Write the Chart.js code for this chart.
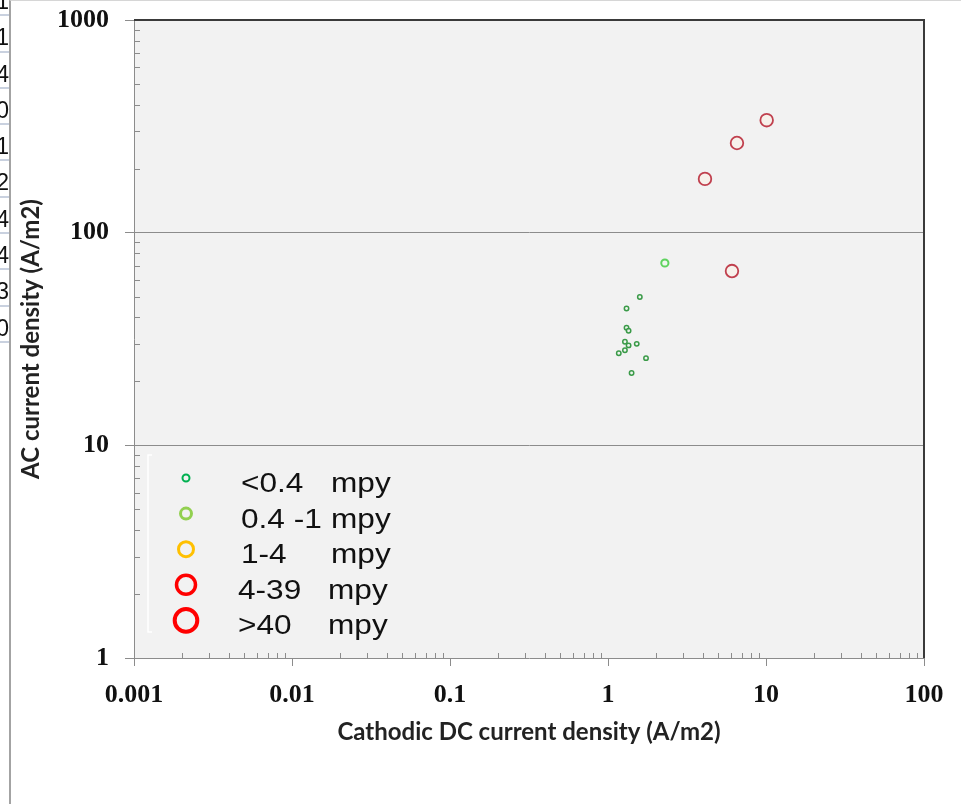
<!DOCTYPE html>
<html>
<head>
<meta charset="utf-8">
<script src="https://cdn.jsdelivr.net/npm/chart.js@4.4.0/dist/chart.umd.min.js"></script>
<style>
  html, body { margin: 0; padding: 0; background: #fff; }
  #wrap { position: relative; width: 961px; height: 804px; overflow: hidden; }
  #chart { position: absolute; left: 0; top: 0; }
  #frame { position: absolute; left: 9px; top: 0; width: 952px; height: 804px; box-sizing: border-box;
           border-left: 2px solid #a3a3a3; border-top: 1px solid #d6d6d6; pointer-events: none; }
  #cells { position: absolute; left: -19px; top: -20px; width: 28px;
           font: 23px "Liberation Sans", Arial, sans-serif; color: #111; }
  #cells div { height: 36.3px; box-sizing: border-box; border-bottom: 2px solid #c9d1df;
               text-align: right; line-height: 36px; padding-top: 3px; padding-right: 0; }
</style>
</head>
<body>
<div id="wrap">
  <canvas id="chart" width="961" height="804"></canvas>
  <div id="cells"></div>
  <div id="frame"></div>
</div>
<script>
// cut-off spreadsheet column on the left edge
const cellDigits = ["1", "1", "4", "0", "1", "2", "4", "4", "3", "0"];

// axes
const xTickValues = [0.001, 0.01, 0.1, 1, 10, 100];
const xTickLabels = ["0.001", "0.01", "0.1", "1", "10", "100"];
const yTickValues = [1, 10, 100, 1000];
const yTickLabels = ["1", "10", "100", "1000"];

// legend
const legendLabels = ["<0.4", "0.4 -1", "1-4", "4-39", ">40"];
const unitLabel = "mpy";

// points: cathodic DC density (x) vs AC density (y)
const lowDC = [1.59, 1.31, 1.31, 1.35, 1.28, 1.35, 1.52, 1.28, 1.17, 1.74, 1.41];
const lowAC = [49.8, 44, 35.7, 34.6, 30.7, 29.5, 30, 28, 27.1, 25.7, 21.9];
const midDC = [2.29];
const midAC = [72];
const highDC = [10.1, 6.55, 4.11, 6.09];
const highAC = [338, 264, 179, 66];

document.getElementById("cells").innerHTML =
  cellDigits.map(d => "<div>" + d + "</div>").join("");

const toPoints = (xs, ys) => xs.map((x, i) => ({ x: x, y: ys[i] }));

function minorValues(min, max) {
  const out = [];
  for (let d = min; d < max * 0.999; d *= 10) {
    for (let m = 2; m <= 9; m++) out.push(d * m);
  }
  return out;
}

const legendStyle = [
  { color: "#00b050", r: 3.5, w: 2 },
  { color: "#92d050", r: 5.5, w: 3 },
  { color: "#ffc000", r: 7.5, w: 3 },
  { color: "#ff0000", r: 9.5, w: 3.5 },
  { color: "#ff0000", r: 11.3, w: 4 }
];

// text in the pasted legend box is a little stretched sideways
function stretchedText(ctx, text, x, y) {
  ctx.save();
  ctx.translate(x, y);
  ctx.scale(1.17, 1);
  ctx.fillText(text, 0, 0);
  ctx.restore();
}

const framePlugin = {
  id: "frame",
  beforeDraw(chart) {
    const { ctx, chartArea: a } = chart;
    ctx.save();
    ctx.fillStyle = "#f2f2f2";
    ctx.fillRect(a.left, a.top, a.right - a.left, a.bottom - a.top);
    ctx.restore();
  },
  afterDraw(chart) {
    const { ctx, chartArea: a, scales } = chart;
    ctx.save();
    // minor ticks
    ctx.strokeStyle = "#8c8c8c";
    ctx.lineWidth = 1;
    ctx.beginPath();
    minorValues(0.001, 100).forEach(v => {
      const px = Math.round(scales.x.getPixelForValue(v)) + 0.5;
      ctx.moveTo(px, a.bottom);
      ctx.lineTo(px, a.bottom - 5);
    });
    minorValues(1, 1000).forEach(v => {
      const py = Math.round(scales.y.getPixelForValue(v)) + 0.5;
      ctx.moveTo(a.left, py);
      ctx.lineTo(a.left + 6, py);
    });
    ctx.stroke();

    // dark top/right border
    ctx.strokeStyle = "#3a3a3a";
    ctx.lineWidth = 2;
    ctx.beginPath();
    ctx.moveTo(a.left, a.top);
    ctx.lineTo(a.right, a.top);
    ctx.lineTo(a.right, a.bottom);
    ctx.stroke();

    // legend box (only the faint left edge shows)
    const lx = a.left + 14, ly = a.top + 435;
    ctx.strokeStyle = "#ffffff";
    ctx.lineWidth = 1.5;
    ctx.beginPath();
    ctx.moveTo(lx + 4, ly);
    ctx.lineTo(lx, ly);
    ctx.lineTo(lx, ly + 177);
    ctx.lineTo(lx + 4, ly + 177);
    ctx.stroke();

    ctx.font = '27px "Liberation Sans", Arial, sans-serif';
    ctx.fillStyle = "#111";
    ctx.textBaseline = "alphabetic";
    legendLabels.forEach((lab, i) => {
      const st = legendStyle[i];
      const my = a.top + 458 + i * 35.6;
      ctx.beginPath();
      ctx.arc(a.left + 52, my, st.r, 0, Math.PI * 2);
      ctx.strokeStyle = st.color;
      ctx.lineWidth = st.w;
      ctx.stroke();
      const shift = i >= 3 ? -3 : 0;
      stretchedText(ctx, lab, a.left + 107 + shift, my + 14);
      stretchedText(ctx, unitLabel, a.left + 197 + shift, my + 14);
    });
    ctx.restore();
  }
};

const tickFont = { family: '"Liberation Serif", serif', size: 26, weight: "bold" };
const titleFont = { family: "Lato, sans-serif", size: 24, weight: "bold" };

new Chart(document.getElementById("chart"), {
  type: "scatter",
  data: {
    datasets: [
      {
        label: legendLabels[0],
        data: toPoints(lowDC, lowAC),
        borderColor: "#3a9a48",
        backgroundColor: "rgba(235,245,235,0.7)",
        pointRadius: 2.2,
        borderWidth: 1.5
      },
      {
        label: legendLabels[1],
        data: toPoints(midDC, midAC),
        borderColor: "#5fd35f",
        backgroundColor: "rgba(240,250,240,0.7)",
        pointRadius: 3.6,
        borderWidth: 2
      },
      {
        label: legendLabels[3],
        data: toPoints(highDC, highAC),
        borderColor: "#c0404e",
        backgroundColor: "rgba(248,240,232,0.8)",
        pointRadius: 6.3,
        borderWidth: 1.8
      }
    ]
  },
  options: {
    responsive: false,
    animation: false,
    layout: { padding: { top: 20, right: 37, left: 0, bottom: 0 } },
    plugins: { legend: { display: false }, tooltip: { enabled: false } },
    scales: {
      x: {
        type: "logarithmic",
        min: 0.001,
        max: 100,
        afterBuildTicks: s => { s.ticks = xTickValues.map(v => ({ value: v })); },
        afterFit: s => { s.height = 146; s.paddingLeft = 0; s.paddingRight = 0; },
        ticks: {
          callback: (v, i) => xTickLabels[i],
          font: tickFont,
          color: "#111",
          padding: 14,
          maxRotation: 0,
          autoSkip: false
        },
        grid: { drawOnChartArea: false, tickLength: 8, tickColor: "#8c8c8c", color: "#8c8c8c" },
        border: { color: "#8c8c8c", width: 1 },
        title: {
          display: true,
          text: "Cathodic DC current density (A/m2)",
          font: titleFont,
          color: "#222",
          padding: { top: 0, bottom: 57 }
        }
      },
      y: {
        type: "logarithmic",
        min: 1,
        max: 1000,
        afterBuildTicks: s => { s.ticks = yTickValues.map(v => ({ value: v })); },
        afterFit: s => { s.width = 134; s.paddingTop = 0; s.paddingBottom = 0; },
        ticks: {
          callback: (v, i) => yTickLabels[i],
          font: tickFont,
          color: "#111",
          padding: 16,
          autoSkip: false
        },
        grid: {
          color: c => (c.tick && (c.tick.value === 10 || c.tick.value === 100)) ? "#8c8c8c" : "rgba(0,0,0,0)",
          tickColor: "#8c8c8c",
          tickLength: 9
        },
        border: { color: "#8c8c8c", width: 1 },
        title: {
          display: true,
          text: "AC current density (A/m2)",
          font: titleFont,
          color: "#222",
          padding: { top: 17, bottom: 0 }
        }
      }
    }
  },
  plugins: [framePlugin]
});
</script>
</body>
</html>
